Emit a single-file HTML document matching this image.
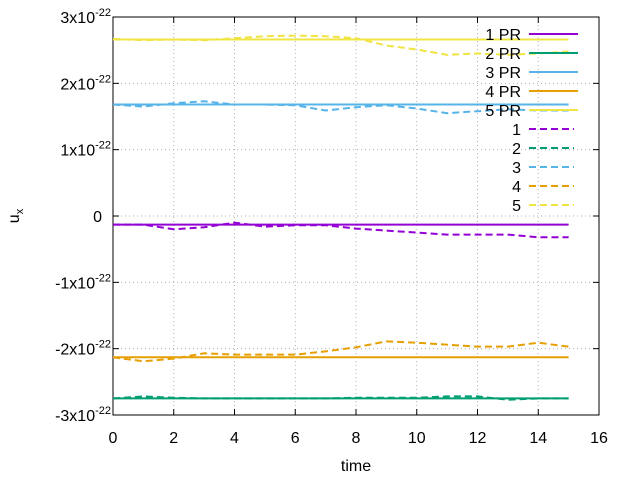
<!DOCTYPE html>
<html><head><meta charset="utf-8"><style>
body{margin:0;background:#fff;}
svg{font-family:"Liberation Sans",sans-serif;font-size:16px;}
</style></head><body>
<svg id="chart" width="618" height="477" xmlns="http://www.w3.org/2000/svg">
<g id="grid"></g>
<g id="axes"></g>
<g id="series"></g>
<g id="legend"></g>
</svg>
<script>
const times = [0,1,2,3,4,5,6,7,8,9,10,11,12,13,14,15];
const prValues = [-0.13, -2.75, 1.68, -2.13, 2.66];
const dash1 = [-0.13,-0.13,-0.20,-0.17,-0.10,-0.16,-0.14,-0.14,-0.19,-0.22,-0.25,-0.28,-0.28,-0.28,-0.32,-0.32];
const dash2 = [-2.75,-2.72,-2.74,-2.75,-2.75,-2.75,-2.75,-2.75,-2.74,-2.74,-2.74,-2.72,-2.72,-2.77,-2.75,-2.75];
const dash3 = [1.68,1.65,1.70,1.73,1.68,1.68,1.67,1.59,1.64,1.67,1.62,1.55,1.58,1.61,1.59,1.59];
const dash4 = [-2.13,-2.19,-2.15,-2.07,-2.09,-2.09,-2.09,-2.04,-1.98,-1.89,-1.91,-1.94,-1.97,-1.97,-1.91,-1.97];
const dash5 = [2.67,2.65,2.66,2.65,2.68,2.71,2.72,2.71,2.68,2.57,2.51,2.43,2.45,2.43,2.45,2.48];
const xTicks = [0,2,4,6,8,10,12,14,16];
const yTicks = [3,2,1,0,-1,-2,-3];
const colors = ["#9400d3","#009e73","#56b4e9","#e69f00","#f0e442"];

const NS="http://www.w3.org/2000/svg";
const L=113,R=599,T=17,B=415;
const xs=v=>L+(v-0)/16*(R-L);
const ys=v=>T+(3-v)/6*(B-T);
function mk(tag,attrs,parent){const e=document.createElementNS(NS,tag);for(const k in attrs)e.setAttribute(k,attrs[k]);parent.appendChild(e);return e;}
const grid=document.getElementById('grid'),axes=document.getElementById('axes'),series=document.getElementById('series'),legend=document.getElementById('legend');

xTicks.forEach(t=>{
  const x=xs(t);
  if(t>0&&t<16){const g=mk('line',{x1:x,x2:x,y1:T,y2:B,stroke:'#b0b0b0','stroke-width':1,'stroke-dasharray':'1,3'},grid);
  
  }
  mk('line',{x1:x,x2:x,y1:B,y2:B-6,stroke:'#000'},axes);
  mk('line',{x1:x,x2:x,y1:T,y2:T+6,stroke:'#000'},axes);
  const tx=mk('text',{x:x,y:443,'text-anchor':'middle'},axes);tx.textContent=t;
  
  
});
yTicks.forEach(t=>{
  const y=ys(t);
  if(t<3&&t>-3){const g=mk('line',{x1:L,x2:R,y1:y,y2:y,stroke:'#b0b0b0','stroke-width':1,'stroke-dasharray':'1,3'},grid);
  
  }
  mk('line',{x1:L,x2:L+6,y1:y,y2:y,stroke:'#000'},axes);
  mk('line',{x1:R,x2:R-6,y1:y,y2:y,stroke:'#000'},axes);
  const tx=mk('text',{x:111,y:y+6,'text-anchor':'end'},axes);
  
  
  if(t===0){tx.setAttribute('x',102);tx.textContent='0';}
  else{tx.textContent=t+'x10';const s=mk('tspan',{dy:-7,'font-size':'11'},tx);s.textContent='-22';}
});
const frame=mk('rect',{x:L,y:T,width:R-L,height:B-T,fill:'none',stroke:'#000'},axes);


const xt=mk('text',{x:356,y:471,'text-anchor':'middle'},axes);xt.textContent='time';


const yt=mk('text',{x:0,y:0,transform:'translate(19,216) rotate(-90)','text-anchor':'middle'},axes);
yt.textContent='u';const ysub=mk('tspan',{dy:4,'font-size':'11'},yt);ysub.textContent='x';



const dashes=[dash1,dash2,dash3,dash4,dash5];
prValues.forEach((v,i)=>{
  const pts=times.map(t=>xs(t)+','+ys(v)).join(' ');
  const p=mk('polyline',{points:pts,fill:'none',stroke:colors[i],'stroke-width':2},series);
  
  
});
dashes.forEach((d,i)=>{
  const pts=times.map((t,j)=>xs(t)+','+ys(d[j])).join(' ');
  const p=mk('polyline',{points:pts,fill:'none',stroke:colors[i],'stroke-width':2,'stroke-dasharray':'7,4'},series);
  
  
});
const labels=['1 PR','2 PR','3 PR','4 PR','5 PR','1','2','3','4','5'];
labels.forEach((lab,i)=>{
  const y=34+i*19;const c=colors[i%5];const dashed=i>=5;
  const g=mk('g',{},legend);
  
  
  const t=mk('text',{x:521,y:y+6,'text-anchor':'end'},g);t.textContent=lab;
  const ln=mk('line',{x1:529,x2:dashed?574:578,y1:y,y2:y,stroke:c,'stroke-width':2},g);
  if(dashed)ln.setAttribute('stroke-dasharray','7,4');
});
</script>
</body></html>
